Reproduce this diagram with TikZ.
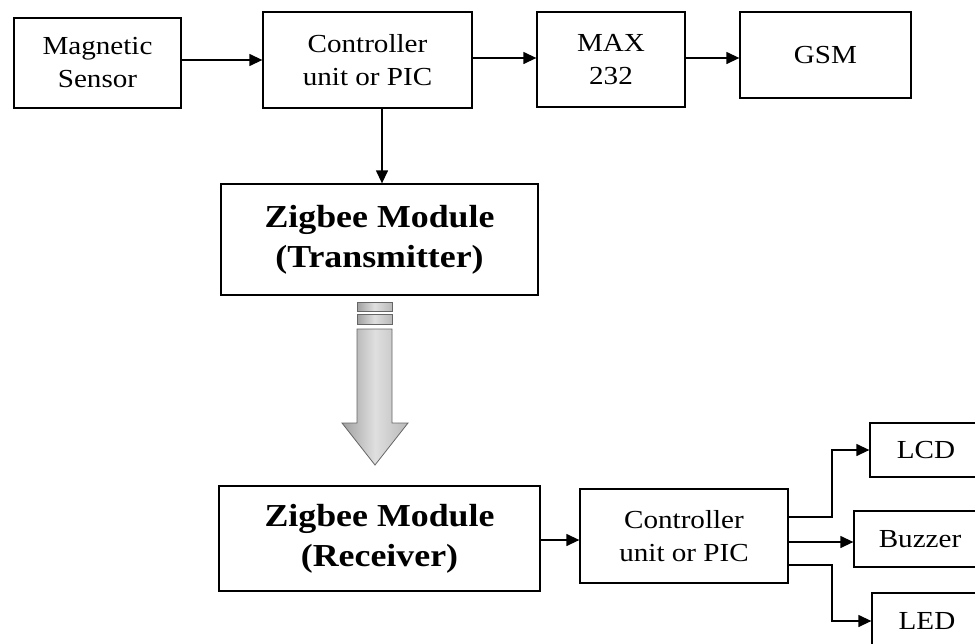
\documentclass[tikz,border=0pt]{standalone}
\usepackage{fontspec}
\setmainfont[FakeStretch=1.12]{Liberation Serif}
\usetikzlibrary{arrows.meta,shadings}
\begin{document}
\begin{tikzpicture}[x=1pt,y=-1pt,
  blk/.style={draw,line width=1.3pt,align=center,inner sep=0pt,font=\fontsize{26}{33}\selectfont},
  bigblk/.style={draw,line width=1.3pt,align=center,inner sep=0pt,font=\fontsize{32}{40}\selectfont\bfseries},
  arr/.style={line width=1.3pt,-{Triangle[length=13pt,width=12pt]}},
  grayfill/.style={draw=gray!80!black,line width=0.8pt,left color=gray!75,right color=gray!55,middle color=gray!25}]
\clip (0,0) rectangle (975,643);
\fill[white] (0,0) rectangle (975,643);
\node[blk,minimum width=167pt,minimum height=90pt] (mag) at (97.5,63) {Magnetic\\Sensor};
\node[blk,minimum width=209pt,minimum height=96pt] (ctla) at (367.5,60) {Controller\\unit or PIC};
\node[blk,minimum width=148pt,minimum height=95pt] (max) at (611,59.5) {MAX\\232};
\node[blk,minimum width=171pt,minimum height=86pt] (gsm) at (825.5,55) {GSM};
\node[bigblk,minimum width=317pt,minimum height=111pt] (ztx) at (379.5,239.5) {Zigbee Module\\(Transmitter)};
\node[bigblk,minimum width=321pt,minimum height=105pt] (zrx) at (379.5,538.5) {Zigbee Module\\(Receiver)};
\node[blk,minimum width=208pt,minimum height=94pt] (ctlb) at (684,536) {Controller\\unit or PIC};
\node[blk,minimum width=112pt,minimum height=54pt,text width=106pt] (lcd) at (926,450) {LCD};
\node[blk,minimum width=132pt,minimum height=56pt,text width=132pt] (buz) at (920,539) {Buzzer};
\node[blk,minimum width=110pt,minimum height=56pt,text width=96pt] (led) at (927,621) {LED};
% connectors
\draw[arr] (mag.east |- 0,60) -- (ctla.west |- 0,60);
\draw[arr] (ctla.east |- 0,58) -- (max.west |- 0,58);
\draw[arr] (max.east |- 0,58) -- (gsm.west |- 0,58);
\draw[arr] (ctla.south -| 382,0) -- (ztx.north -| 382,0);
\draw[arr] (zrx.east |- 0,540) -- (ctlb.west |- 0,540);
\draw[arr] (ctlb.east |- 0,517) -- (832,517) |- (lcd.west);
\draw[arr] (ctlb.east |- 0,542) -- (buz.west |- 0,542);
\draw[arr] (ctlb.east |- 0,565) -- (832,565) |- (led.west);
% big arrow
\draw[grayfill] (357,302) rectangle (392,311);
\draw[grayfill] (357,314) rectangle (392,324);
\draw[grayfill] (357,329) -- (392,329) -- (392,423) -- (408,423) -- (375,465) -- (342,423) -- (357,423) -- cycle;
\end{tikzpicture}
\end{document}
